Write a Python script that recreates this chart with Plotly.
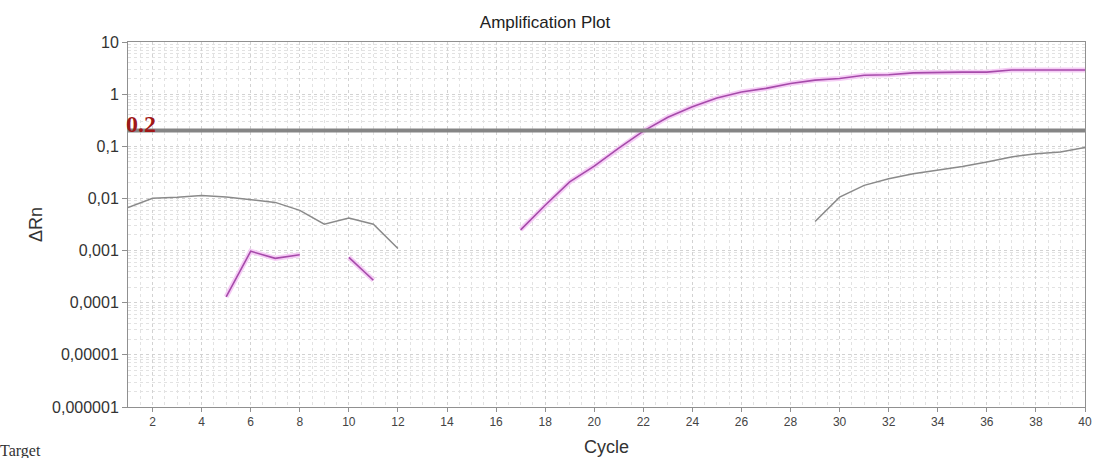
import plotly.graph_objects as go
import math

cycles = list(range(1, 41))

# Gray sample (two visible segments)
gray_vals = [0.0067, 0.0101, 0.0105, 0.0114, 0.0107, 0.0096, 0.0084, 0.0059, 0.0032, 0.0042,
             0.0032, 0.0011, None, None, None, None, None, None, None, None,
             None, None, None, None, None, None, None, None, 0.0036, 0.0106,
             0.0178, 0.0239, 0.0298, 0.0345, 0.041, 0.050, 0.0625, 0.072, 0.078, 0.095]

# Magenta sample
mag_vals = [None, None, None, None, 0.00013, 0.00097, 0.00071, 0.00083, None, 0.00074,
            0.00027, None, None, None, None, None, 0.0025, 0.0074, 0.0207, 0.0415,
            0.092, 0.195, 0.36, 0.57, 0.84, 1.1, 1.29, 1.6, 1.86, 2.0,
            2.3, 2.35, 2.56, 2.64, 2.64, 2.64, 2.9, 2.9, 2.9, 2.9]

threshold = 0.2
x_ticks = list(range(2, 41, 2))
y_tickvals = [1e-6, 1e-5, 1e-4, 1e-3, 1e-2, 1e-1, 1, 10]
y_ticktext = ["0,000001", "0,00001", "0,0001", "0,001", "0,01", "0,1", "1", "10"]

y_minor = [m * 10 ** e for e in range(-6, 1) for m in range(2, 10)]
x_minor = [c / 2 for c in range(2, 81)]

fig = go.Figure()

fig.add_trace(go.Scatter(x=cycles, y=gray_vals, mode="lines",
                         line=dict(color="#8a8a8a", width=1.5),
                         connectgaps=False, showlegend=False, hoverinfo="skip"))
fig.add_trace(go.Scatter(x=cycles, y=mag_vals, mode="lines",
                         line=dict(color="#f5cdf5", width=5),
                         connectgaps=False, showlegend=False, hoverinfo="skip"))
fig.add_trace(go.Scatter(x=cycles, y=mag_vals, mode="lines",
                         line=dict(color="#a64aaa", width=1.6),
                         connectgaps=False, showlegend=False))

fig.add_shape(type="line", xref="paper", x0=0, x1=1, yref="y",
              y0=threshold, y1=threshold,
              line=dict(color="#858585", width=4))

fig.add_annotation(text="<b>0.2</b>", xref="paper", x=0, xanchor="left", xshift=-4,
                   yref="y", y=math.log10(threshold), yanchor="bottom", yshift=-8,
                   showarrow=False,
                   font=dict(family="Liberation Serif", size=24, color="#a01818"))

fig.add_annotation(text="Target", xref="paper", x=0, xanchor="left",
                   xshift=-130, yref="paper", y=-(440 - 407) / 365, yanchor="top",
                   showarrow=False,
                   font=dict(family="Liberation Serif", size=16, color="#333333"))

grid_major = "#d2d2d2"
grid_minor = "#e2e2e2"

fig.update_layout(
    width=1098, height=458,
    margin=dict(l=128, r=13, t=42, b=51, autoexpand=False),
    paper_bgcolor="white", plot_bgcolor="white",
    title=dict(text="Amplification Plot", x=545 / 1098, xanchor="center",
               yref="container", y=1 - 22 / 458, yanchor="middle",
               font=dict(family="Liberation Sans", size=17, color="#222222")),
    font=dict(family="Liberation Sans", size=12, color="#333333"),
)

fig.update_xaxes(
    range=[1, 40], tickmode="array", tickvals=x_ticks, automargin=False,
    showline=True, linecolor="#909090", linewidth=1, mirror=True,
    ticks="outside", ticklen=4, tickcolor="#909090",
    showgrid=True, gridcolor=grid_major, griddash="dot", gridwidth=1,
    minor=dict(tickmode="array", tickvals=x_minor, showgrid=True,
               gridcolor=grid_minor, griddash="dot", ticks=""),
    zeroline=False,
    title=dict(text="Cycle", font=dict(size=18, color="#333333"), standoff=11),
    tickfont=dict(size=12, color="#444444"),
)

fig.update_yaxes(
    type="log", range=[-6, 1], tickmode="array", automargin=False,
    tickvals=y_tickvals, ticktext=y_ticktext,
    showline=True, linecolor="#909090", linewidth=1, mirror=True,
    ticks="outside", ticklen=5, tickcolor="#909090",
    showgrid=True, gridcolor=grid_major, griddash="dot", gridwidth=1,
    minor=dict(tickmode="array", tickvals=y_minor, showgrid=True,
               gridcolor=grid_minor, griddash="dot", ticks=""),
    zeroline=False,
    title=dict(text="ΔRn", font=dict(size=18, color="#333333"), standoff=4),
    tickfont=dict(size=16, color="#333333"),
)

fig.write_html("out.html", config={"displayModeBar": False},
               post_script="document.body.style.margin='0px';document.body.style.padding='0px';")
